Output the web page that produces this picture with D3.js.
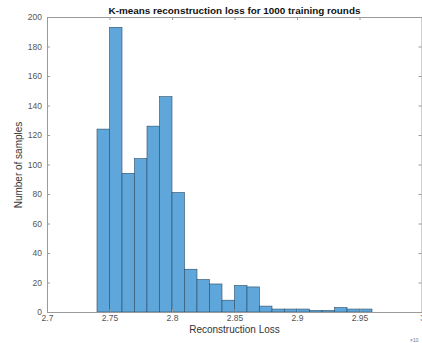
<!DOCTYPE html>
<meta charset="utf-8">
<style>
body { margin: 0; background: #fff; }
text { font-family: "Liberation Sans", Arial, sans-serif; }
</style>
<svg width="422" height="343"></svg>
<script src="https://d3js.org/d3.v7.min.js"></script>
<script>

// histogram bins (left edges) and counts
var binStarts = [2.74, 2.75, 2.76, 2.77, 2.78, 2.79, 2.80, 2.81, 2.82, 2.83, 2.84,
                 2.85, 2.86, 2.87, 2.88, 2.89, 2.90, 2.91, 2.92, 2.93, 2.94, 2.95];
var counts = [124, 193, 94, 104, 126, 146, 81, 29, 22, 19, 8,
              18, 17, 4, 2, 2, 2, 1, 1, 3, 2, 2];
var binWidth = 0.01;
var xTicks = [2.7, 2.75, 2.8, 2.85, 2.9, 2.95, 3];
var yTicks = [0, 20, 40, 60, 80, 100, 120, 140, 160, 180, 200];

var svg = d3.select("svg");
var plotLeft = 47, plotRight = 422, plotTop = 17, plotBottom = 312;

var x = d3.scaleLinear().domain([2.7, 3]).range([plotLeft, plotRight]);
var y = d3.scaleLinear().domain([0, 200]).range([plotBottom, plotTop]);

var bins = binStarts.map(function(b, i) { return {x0: b, x1: b + binWidth, n: counts[i]}; });

svg.append("g").selectAll("rect")
   .data(bins)
   .enter().append("rect")
   .attr("x", function(d) { return x(d.x0); })
   .attr("y", function(d) { return y(d.n); })
   .attr("width", function(d) { return x(d.x1) - x(d.x0); })
   .attr("height", function(d) { return y(0) - y(d.n); })
   .attr("fill", "#5fa7da")
   .attr("stroke", "#2c4b66")
   .attr("stroke-width", 0.6);

// axes, MATLAB style with ticks pointing inward
var axisColor = "#9a9a9a";
var labelColor = "#555";

var xAxis = svg.append("g")
   .attr("transform", "translate(0," + plotBottom + ")")
   .call(d3.axisBottom(x).tickValues(xTicks).tickSize(-3).tickPadding(3)
         .tickFormat(function(d) { return String(+d.toFixed(2)); }));
var xTop = svg.append("g")
   .attr("transform", "translate(0," + plotTop + ")")
   .call(d3.axisTop(x).tickValues(xTicks).tickSize(-3).tickFormat(""));
var yAxis = svg.append("g")
   .attr("transform", "translate(" + plotLeft + ",0)")
   .call(d3.axisLeft(y).tickValues(yTicks).tickSize(-3).tickPadding(5));
var yRight = svg.append("g")
   .attr("transform", "translate(" + (plotRight - 0.5) + ",0)")
   .call(d3.axisRight(y).tickValues(yTicks).tickSize(-3).tickFormat(""));

[xAxis, xTop, yAxis, yRight].forEach(function(g) {
  g.selectAll(".domain").attr("stroke", axisColor);
  g.selectAll(".tick line").attr("stroke", axisColor);
  g.selectAll("text").attr("fill", labelColor).attr("font-size", "8.5px")
   .style("font-family", "'Liberation Sans', Arial, sans-serif");
});

var midX = (plotLeft + plotRight) / 2;

svg.append("text")
   .attr("x", midX)
   .attr("y", 14)
   .attr("text-anchor", "middle")
   .attr("font-size", "9.9px")
   .attr("font-weight", "bold")
   .attr("fill", "#111")
   .text("K-means reconstruction loss for 1000 training rounds");

svg.append("text")
   .attr("x", midX)
   .attr("y", 333)
   .attr("text-anchor", "middle")
   .attr("font-size", "10px")
   .attr("fill", "#333")
   .text("Reconstruction Loss");

svg.append("text")
   .attr("transform", "translate(22,165) rotate(-90)")
   .attr("text-anchor", "middle")
   .attr("font-size", "10px")
   .attr("fill", "#333")
   .text("Number of samples");

svg.append("text")
   .attr("x", 410)
   .attr("y", 342)
   .attr("font-size", "5px")
   .attr("fill", "#777")
   .text("\u00d710");

</script>
